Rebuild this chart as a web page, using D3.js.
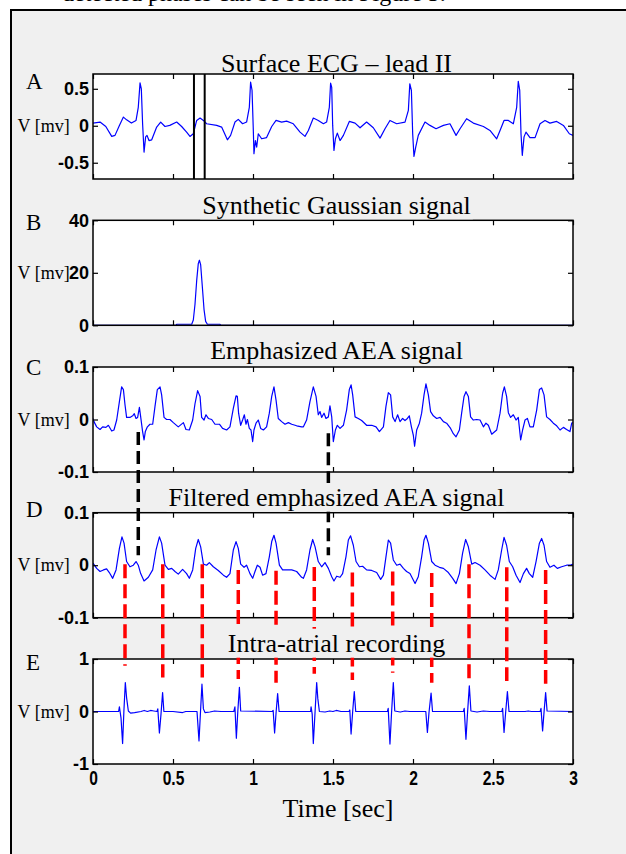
<!DOCTYPE html>
<html>
<head>
<meta charset="utf-8">
<script src="https://cdn.jsdelivr.net/npm/d3@7"></script>
<style>
  body { margin: 0; background: #fff; }
  svg { display: block; }
</style>
</head>
<body>
<svg id="fig" width="626" height="854"></svg>
<script>
// ---- data (time in sec, voltage in mV) ----
const leadII = [[0,0.036],[0.044,0.05],[0.08,-0.01],[0.117,-0.144],[0.1375,-0.13],[0.165,0.005],[0.19,0.117],[0.21,0.08],[0.24,0.036],[0.269,0.072],[0.283,0.25],[0.294,0.58],[0.302,0.5],[0.31,0.027],[0.319,-0.356],[0.329,-0.15],[0.3375,-0.13],[0.35,-0.2],[0.367,-0.19],[0.398,-0.018],[0.423,0.05],[0.45,-0.01],[0.48,0.005],[0.523,0.05],[0.554,-0.01],[0.585,-0.086],[0.606,-0.144],[0.627,-0.108],[0.648,0.072],[0.669,0.104],[0.69,0.072],[0.71,0.027],[0.773,0.005],[0.804,-0.018],[0.84,-0.19],[0.86,-0.13],[0.8875,0.05],[0.908,0.086],[0.935,0.027],[0.96,0.05],[0.977,0.25],[0.985,0.59],[0.994,0.48],[1.002,-0.063],[1.006,-0.378],[1.015,-0.2],[1.023,-0.29],[1.033,-0.108],[1.054,-0.176],[1.085,-0.16],[1.117,-0.01],[1.144,0.072],[1.179,0.05],[1.21,0.063],[1.252,0.027],[1.294,-0.086],[1.325,-0.144],[1.346,-0.063],[1.377,0.104],[1.408,0.072],[1.44,0.027],[1.46,0.05],[1.477,0.25],[1.485,0.577],[1.492,0.52],[1.498,0.005],[1.506,-0.333],[1.515,-0.176],[1.527,-0.1],[1.544,-0.2],[1.565,-0.13],[1.602,0.059],[1.638,0.036],[1.669,-0.027],[1.71,0.05],[1.752,-0.027],[1.794,-0.167],[1.825,-0.04],[1.856,0.072],[1.898,0.027],[1.95,0.05],[1.971,0.207],[1.98,0.568],[1.99,0.477],[1.998,-0.108],[2.006,-0.414],[2.017,-0.288],[2.033,-0.13],[2.075,0.05],[2.106,0.005],[2.144,-0.04],[2.19,0.005],[2.231,0.027],[2.269,-0.13],[2.294,-0.04],[2.335,0.095],[2.377,0.036],[2.44,-0.01],[2.481,-0.063],[2.523,-0.176],[2.544,-0.063],[2.569,0.072],[2.596,0.072],[2.627,0.027],[2.648,0.25],[2.658,0.6],[2.667,0.48],[2.675,-0.108],[2.683,-0.4],[2.694,-0.15],[2.706,-0.086],[2.731,-0.16],[2.763,-0.16],[2.794,0.027],[2.825,0.072],[2.856,0.036],[2.898,0.059],[2.94,0.005],[2.977,-0.108],[3.0,-0.13]];

const gaussian = [[0,0],[0.52,0],[0.523,0.4],[0.617,0.4],[0.627,2],[0.6375,8],[0.648,17],[0.658,23.5],[0.665,24.8],[0.673,23],[0.683,15],[0.694,6],[0.704,1.5],[0.715,0.4],[0.794,0.4],[0.797,0],[3,0]];

const aeaEmph = [[0,0.002],[0.006,-0.004],[0.023,-0.014],[0.044,-0.019],[0.06,-0.014],[0.081,-0.015],[0.096,-0.011],[0.117,-0.022],[0.131,-0.02],[0.148,-0.001],[0.165,0.034],[0.179,0.062],[0.19,0.057],[0.2,0.028],[0.21,0.004],[0.231,0.004],[0.248,0.007],[0.258,0.011],[0.269,0.002],[0.279,0.004],[0.29,0.023],[0.298,0.005],[0.31,-0.023],[0.319,-0.039],[0.327,-0.023],[0.34,-0.014],[0.356,-0.009],[0.373,-0.009],[0.3875,0.025],[0.402,0.057],[0.419,0.062],[0.429,0.047],[0.444,0.004],[0.46,0],[0.481,0],[0.502,-0.006],[0.533,-0.014],[0.565,-0.006],[0.581,-0.019],[0.602,-0.02],[0.623,-0.001],[0.6375,0.03],[0.654,0.055],[0.669,0.044],[0.679,0.004],[0.694,-0.001],[0.706,0.009],[0.721,0.002],[0.742,0],[0.7625,-0.009],[0.79,-0.009],[0.81,-0.017],[0.835,-0.02],[0.856,-0.014],[0.877,0.021],[0.894,0.045],[0.902,0.044],[0.91,0.012],[0.923,-0.011],[0.935,-0.001],[0.946,0.009],[0.956,-0.009],[0.965,0],[0.977,-0.017],[0.9875,-0.02],[0.998,-0.042],[1.006,-0.02],[1.019,-0.007],[1.033,-0.001],[1.048,-0.017],[1.065,-0.02],[1.085,-0.014],[1.102,0.012],[1.117,0.044],[1.131,0.062],[1.144,0.037],[1.158,0.002],[1.179,-0.004],[1.2,-0.009],[1.221,-0.006],[1.242,-0.009],[1.273,-0.012],[1.304,-0.014],[1.315,-0.014],[1.335,-0.001],[1.356,0.034],[1.377,0.062],[1.394,0.044],[1.408,0.009],[1.419,0.015],[1.429,0.004],[1.444,0.012],[1.456,0.002],[1.471,0.005],[1.481,0.026],[1.492,0.005],[1.502,-0.042],[1.515,-0.02],[1.527,-0.011],[1.544,-0.017],[1.565,-0.011],[1.585,0.018],[1.602,0.057],[1.613,0.066],[1.623,0.047],[1.638,0.005],[1.658,0.002],[1.679,-0.002],[1.71,-0.011],[1.742,-0.011],[1.769,-0.014],[1.79,-0.023],[1.815,-0.014],[1.831,0.025],[1.846,0.051],[1.86,0.047],[1.873,0.005],[1.888,-0.004],[1.904,0.009],[1.919,-0.004],[1.935,0.002],[1.95,-0.002],[1.965,0.002],[1.977,0.007],[1.99,-0.014],[2.002,-0.03],[2.01,-0.051],[2.023,-0.02],[2.04,-0.007],[2.054,0.012],[2.069,0.047],[2.081,0.068],[2.096,0.047],[2.11,0.015],[2.127,0.007],[2.148,0.002],[2.169,0.004],[2.19,-0.004],[2.21,-0.007],[2.235,-0.017],[2.252,-0.027],[2.269,-0.033],[2.29,-0.02],[2.304,0.012],[2.319,0.044],[2.331,0.053],[2.346,0.044],[2.36,0.005],[2.377,-0.001],[2.398,0],[2.419,-0.001],[2.44,-0.014],[2.456,-0.007],[2.471,-0.011],[2.492,-0.028],[2.523,-0.02],[2.544,0.012],[2.56,0.05],[2.571,0.062],[2.585,0.044],[2.596,0.013],[2.61,0.004],[2.627,0.009],[2.644,-0.001],[2.658,0.004],[2.673,-0.039],[2.685,-0.02],[2.7,-0.001],[2.715,0.002],[2.731,-0.014],[2.752,-0.014],[2.773,0.018],[2.79,0.057],[2.804,0.06],[2.819,0.047],[2.835,0.005],[2.856,0],[2.877,-0.007],[2.898,-0.012],[2.919,-0.02],[2.94,-0.015],[2.96,-0.019],[2.981,-0.023],[2.992,-0.007],[3.0,-0.006]];

const aeaFilt = [[0,0.004],[0.023,-0.006],[0.044,-0.012],[0.065,-0.009],[0.085,-0.007],[0.102,-0.014],[0.123,-0.025],[0.144,-0.009],[0.165,0.032],[0.181,0.054],[0.194,0.042],[0.21,0.007],[0.231,-0.003],[0.252,0],[0.269,0.007],[0.283,0],[0.298,-0.016],[0.319,-0.03],[0.346,-0.023],[0.373,-0.009],[0.394,0.029],[0.415,0.054],[0.429,0.042],[0.45,0],[0.471,-0.008],[0.492,-0.006],[0.5125,-0.012],[0.533,-0.017],[0.56,-0.008],[0.585,-0.016],[0.602,-0.025],[0.623,-0.009],[0.642,0.032],[0.658,0.049],[0.673,0.035],[0.69,0.002],[0.71,0],[0.727,0.005],[0.752,-0.003],[0.783,-0.01],[0.815,-0.019],[0.835,-0.023],[0.856,-0.016],[0.877,0.029],[0.894,0.045],[0.908,0.032],[0.923,0.002],[0.944,-0.004],[0.96,0],[0.981,-0.016],[0.998,-0.025],[1.0125,-0.012],[1.027,0],[1.044,-0.004],[1.06,-0.019],[1.081,-0.016],[1.102,0.016],[1.117,0.045],[1.131,0.057],[1.144,0.042],[1.165,0],[1.185,-0.009],[1.21,-0.009],[1.242,-0.009],[1.273,-0.012],[1.304,-0.023],[1.315,-0.025],[1.335,-0.009],[1.356,0.029],[1.373,0.049],[1.388,0.035],[1.408,0.007],[1.429,-0.003],[1.45,0.005],[1.471,-0.006],[1.492,-0.022],[1.506,-0.03],[1.523,-0.021],[1.544,-0.023],[1.56,-0.016],[1.581,0.016],[1.596,0.048],[1.61,0.056],[1.627,0.038],[1.644,0.007],[1.665,-0.003],[1.685,-0.002],[1.71,-0.009],[1.742,-0.01],[1.773,-0.014],[1.798,-0.027],[1.815,-0.019],[1.831,0.016],[1.846,0.048],[1.86,0.042],[1.877,0.01],[1.898,0],[1.919,0.002],[1.94,-0.006],[1.96,-0.012],[1.981,-0.016],[2.013,-0.035],[2.033,-0.022],[2.054,0.016],[2.069,0.048],[2.081,0.057],[2.096,0.042],[2.117,0.007],[2.138,0],[2.165,-0.004],[2.19,-0.006],[2.221,-0.014],[2.248,-0.025],[2.269,-0.035],[2.29,-0.016],[2.31,0.023],[2.329,0.049],[2.346,0.035],[2.367,0.002],[2.388,0.005],[2.419,0],[2.45,-0.009],[2.481,-0.019],[2.513,-0.027],[2.533,-0.009],[2.554,0.029],[2.569,0.053],[2.585,0.038],[2.602,0.007],[2.623,-0.003],[2.644,-0.019],[2.669,-0.033],[2.69,-0.016],[2.71,-0.006],[2.727,-0.016],[2.748,-0.023],[2.769,0.007],[2.79,0.042],[2.804,0.051],[2.819,0.038],[2.835,0.007],[2.856,-0.004],[2.881,0],[2.902,-0.006],[2.929,-0.003],[2.96,0],[2.981,0],[3.0,0.002]];

const intraAtrial = [[0,0],[0.16,0],[0.165,0.09],[0.175,-0.12],[0.185,-0.61],[0.193,0],[0.202,0.55],[0.21,0.26],[0.221,0.01],[0.235,-0.03],[0.26,-0.02],[0.3,0],[0.32,0.02],[0.34,0],[0.36,0.02],[0.38,0.01],[0.4,0],[0.405,0.05],[0.415,-0.41],[0.425,-0.05],[0.435,0.36],[0.443,0],[0.5,0],[0.56,-0.02],[0.58,0],[0.65,0],[0.6625,-0.56],[0.672,0],[0.681,0.52],[0.69,0.05],[0.7,-0.02],[0.73,-0.01],[0.76,0.01],[0.8,0],[0.88,0],[0.887,0.09],[0.896,-0.51],[0.905,0],[0.915,0.46],[0.923,0.01],[1.12,0],[1.126,0.02],[1.135,-0.41],[1.145,0.01],[1.154,0.34],[1.163,0],[1.36,0],[1.363,0.09],[1.37,-0.05],[1.377,-0.61],[1.388,0],[1.398,0.55],[1.405,0.25],[1.415,0],[1.45,-0.01],[1.48,0.01],[1.5,0],[1.52,0.02],[1.55,0],[1.6,0],[1.605,0.03],[1.613,-0.43],[1.623,0],[1.633,0.38],[1.642,0],[1.84,0],[1.845,0.06],[1.856,-0.62],[1.866,-0.02],[1.877,0.55],[1.886,0.01],[1.92,-0.01],[1.95,0.01],[1.98,0],[2.08,0],[2.09,-0.4],[2.1,-0.02],[2.113,0.35],[2.122,0],[2.315,0],[2.32,0.06],[2.331,-0.53],[2.341,-0.02],[2.352,0.49],[2.362,0.01],[2.4,-0.01],[2.44,0.01],[2.48,0],[2.555,0],[2.56,0.06],[2.569,-0.4],[2.579,-0.02],[2.59,0.38],[2.6,0],[2.7,0],[2.72,0.01],[2.74,0],[2.795,0],[2.8,0.06],[2.81,-0.37],[2.818,-0.05],[2.829,0.36],[2.838,0.01],[3,0]];

// window markers on the surface ECG (sec)
const windowTimes = [0.631, 0.698];

// detected phases: time, start value in panel D, end value in panel E
const phaseTimes = [0.2, 0.436, 0.683, 0.908, 1.144, 1.383, 1.621, 1.873, 2.117, 2.35, 2.586, 2.829];
const phaseStartD = [0.002, 0.002, 0.002, -0.009, -0.0105, -0.0035, -0.014, -0.012, -0.015, 0.002, -0.004, -0.009];
const phaseEndE = [0.87, 0.65, 0.65, 0.62, 0.55, 0.72, 0.6, 0.74, 0.55, 0.53, 0.58, 0.53];

// missed beats: time, start value in panel C, end value in panel D
const missTimes = [0.283, 1.471];
const missStartC = [-0.024, -0.026];
const missEndD = [0.019, 0.019];

const timeTicks = [0, 0.5, 1, 1.5, 2, 2.5, 3];

// ---- layout ----
const svg = d3.select("#fig");
const serif = "'Liberation Serif', 'Times New Roman', serif";
const sans = "'Liberation Sans', Arial, sans-serif";
const figBg = "#f0f0f0";

const x = d3.scaleLinear().domain([0, 3]).range([93, 573]);
const panelH = 105;

const panels = [
  {letter: "A", title: "Surface ECG \u2013 lead II", domain: [-0.72, 0.7], ticks: [-0.5, 0, 0.5], label: 0, data: leadII, top: 74, letterDy: 15, titleDy: -2.5},
  {letter: "B", title: "Synthetic Gaussian signal", domain: [0, 40], ticks: [0, 20, 40], label: 20, data: gaussian, top: 220.3, letterDy: 10, titleDy: -6},
  {letter: "C", title: "Emphasized AEA signal", domain: [-0.1, 0.1], ticks: [-0.1, 0, 0.1], label: 0, data: aeaEmph, top: 367, letterDy: 8, titleDy: -8},
  {letter: "D", title: "Filtered emphasized AEA signal", domain: [-0.1, 0.1], ticks: [-0.1, 0, 0.1], label: 0, data: aeaFilt, top: 512.7, letterDy: 4, titleDy: -6.7},
  {letter: "E", title: "Intra-atrial recording", domain: [-1, 1], ticks: [-1, 0, 1], label: 0, data: intraAtrial, top: 659, letterDy: 11, titleDy: -7.3}
];
panels.forEach(p => {
  p.y = d3.scaleLinear().domain(p.domain).range([p.top + panelH, p.top]);
});

// figure frame
svg.append("rect")
  .attr("x", 11).attr("y", 10)
  .attr("width", 700).attr("height", 900)
  .attr("fill", figBg)
  .attr("stroke", "#000")
  .attr("stroke-width", 2);

// text of the page above the figure, mostly cut off
svg.append("text")
  .attr("x", 62).attr("y", 1)
  .style("font-family", serif)
  .style("font-size", "24px")
  .text("detected phases can be seen in Figure 5.");

const defs = svg.append("defs");
const line = d3.line();

panels.forEach((p, i) => {
  const g = svg.append("g").attr("class", "panel-" + p.letter);

  g.append("rect")
    .attr("x", 93).attr("y", p.top)
    .attr("width", 480).attr("height", panelH)
    .attr("fill", "#fff");

  defs.append("clipPath").attr("id", "clip" + i)
    .append("rect")
    .attr("x", 93).attr("y", p.top - 1)
    .attr("width", 480).attr("height", panelH + 2);

  g.append("path")
    .attr("clip-path", "url(#clip" + i + ")")
    .attr("d", line(p.data.map(d => [x(d[0]), p.y(d[1])])))
    .attr("fill", "none")
    .attr("stroke", "#0000ff")
    .attr("stroke-width", 1.2)
    .attr("stroke-linejoin", "round");

  // inward ticks on all four sides
  const bottom = g.append("g").attr("transform", "translate(0," + (p.top + panelH) + ")")
    .call(d3.axisBottom(x).tickValues(timeTicks).tickSize(-5).tickSizeOuter(0).tickPadding(7)
      .tickFormat(i === panels.length - 1 ? (d => String(d)) : ""));
  g.append("g").attr("transform", "translate(0," + p.top + ")")
    .call(d3.axisTop(x).tickValues(timeTicks).tickSize(-5).tickSizeOuter(0).tickFormat(""));
  const left = g.append("g").attr("transform", "translate(93,0)")
    .call(d3.axisLeft(p.y).tickValues(p.ticks).tickSize(-5).tickSizeOuter(0).tickPadding(4)
      .tickFormat(d => String(d)));
  g.append("g").attr("transform", "translate(573,0)")
    .call(d3.axisRight(p.y).tickValues(p.ticks).tickSize(-5).tickSizeOuter(0).tickFormat(""));

  g.selectAll(".domain").remove();
  g.selectAll(".tick line").attr("stroke", "#000").attr("stroke-width", 1.2);

  left.selectAll("text")
    .style("font-family", sans)
    .style("font-weight", "bold")
    .style("font-size", "18px")
    .attr("fill", "#000");

  bottom.selectAll("text")
    .style("font-family", sans)
    .style("font-weight", "bold")
    .style("font-size", "20px")
    .attr("fill", "#000")
    .attr("transform", "scale(0.78,1)");

  g.append("rect")
    .attr("x", 93).attr("y", p.top)
    .attr("width", 480).attr("height", panelH)
    .attr("fill", "none")
    .attr("stroke", "#000")
    .attr("stroke-width", 1.5);

  // axis label
  g.append("text")
    .attr("x", 17.5).attr("y", p.y(p.label) + 6)
    .style("font-family", serif)
    .style("font-size", "18px")
    .text("V [mv]");

  // panel letter
  g.append("text")
    .attr("x", 26).attr("y", p.top + p.letterDy)
    .style("font-family", serif)
    .style("font-size", "23px")
    .text(p.letter);
});

// window markers on panel A
const pA = panels[0];
svg.append("g").selectAll("line")
  .data(windowTimes)
  .join("line")
  .attr("x1", d => x(d)).attr("x2", d => x(d))
  .attr("y1", pA.top).attr("y2", pA.top + panelH)
  .attr("stroke", "#000")
  .attr("stroke-width", 2);

// missed beats, black dashes from C to D
const pC = panels[2], pD = panels[3], pE = panels[4];
svg.append("g").selectAll("line")
  .data(missTimes)
  .join("line")
  .attr("x1", d => x(d)).attr("x2", d => x(d))
  .attr("y1", (d, i) => pC.y(missStartC[i]))
  .attr("y2", (d, i) => pD.y(missEndD[i]))
  .attr("stroke", "#000")
  .attr("stroke-width", 3.5)
  .attr("stroke-dasharray", "13,6");

// detected phases, red dashes from D to E
svg.append("g").selectAll("line")
  .data(phaseTimes)
  .join("line")
  .attr("x1", d => x(d)).attr("x2", d => x(d))
  .attr("y1", (d, i) => pD.y(phaseStartD[i]))
  .attr("y2", (d, i) => pE.y(phaseEndE[i]))
  .attr("stroke", "#ff0000")
  .attr("stroke-width", 3.5)
  .attr("stroke-dasharray", "14,6");

// titles sit on a box of figure colour, over the dashed lines
panels.forEach(p => {
  const tg = svg.append("g");
  const t = tg.append("text")
    .attr("x", 336.5).attr("y", p.top + p.titleDy)
    .attr("text-anchor", "middle")
    .style("font-family", serif)
    .style("font-size", "26px")
    .attr("fill", "#000")
    .text(p.title);
  const bb = t.node().getBBox();
  tg.insert("rect", "text")
    .attr("x", bb.x - 2).attr("y", bb.y)
    .attr("width", bb.width + 4)
    .attr("height", Math.min(bb.height, p.top - 1 - bb.y))
    .attr("fill", figBg);
});

// x axis label
svg.append("text")
  .attr("x", 338).attr("y", 816.5)
  .attr("text-anchor", "middle")
  .style("font-family", serif)
  .style("font-size", "26px")
  .text("Time [sec]");
</script>
</body>
</html>
